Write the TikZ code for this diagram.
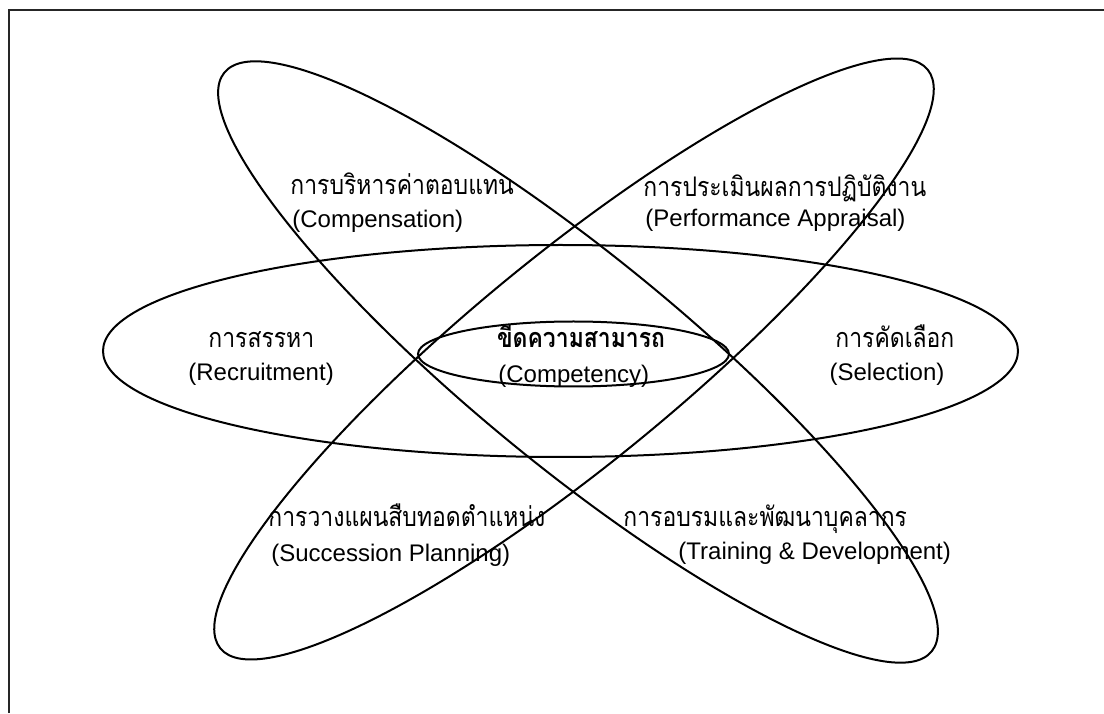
\documentclass[tikz,border=0pt]{standalone}
\usepackage{fontspec}
\setmainfont{Liberation Sans}
\newfontfamily\thai[Script=Thai,FakeStretch=0.85]{Loma}
\begin{document}
\begin{tikzpicture}[x=0.5pt,y=0.5pt,
  orbit/.style={draw=black,line width=1pt},
  thline/.style={anchor=base west,inner sep=0pt,font=\thai\fontsize{13.5}{15}\selectfont},
  enline/.style={anchor=base west,inner sep=0pt,font=\fontsize{12}{14}\selectfont}]
\useasboundingbox (0,0) rectangle (1104,713);
% open frame: left and top edges
\draw[line width=1.3pt,black!85] (9,0) -- (9,703) -- (1104,703);
% the three crossing orbits and the core
\draw[orbit] (560.5,362) ellipse [x radius=457.5,y radius=106];
\draw[orbit,rotate around={-39.3:(578,351)}] (578,351) ellipse [x radius=457,y radius=105];
\draw[orbit,rotate around={39.3:(574,354)}] (574,354) ellipse [x radius=457,y radius=104];
\draw[orbit] (573.5,359) ellipse [x radius=155.5,y radius=32.5];
% labels
\node[thline] (compTh) at (290,518) {การบริหารค่าตอบแทน};
\node[enline] (compEn) at (292,485) {(Compensation)};
\node[thline] (perfTh) at (643,516) {การประเมินผลการปฏิบัติงาน};
\node[enline] (perfEn) at (645,486) {(Performance Appraisal)};
\node[thline] (recTh) at (208,365) {การสรรหา};
\node[enline] (recEn) at (188,332) {(Recruitment)};
\node[thline,anchor=base,font=\thai\bfseries\fontsize{13.5}{15}\selectfont] (coreTh) at (581,365) {ขีดความสามารถ};
\node[enline] (coreEn) at (498,330) {(Competency)};
\node[thline] (selTh) at (835,365) {การคัดเลือก};
\node[enline,anchor=base] (selEn) at (887,332) {(Selection)};
\node[thline] (sucTh) at (268,186) {การวางแผนสืบทอดตำแหน่ง};
\node[enline] (sucEn) at (271,151) {(Succession Planning)};
\node[thline] (trTh) at (623,186) {การอบรมและพัฒนาบุคลากร};
\node[enline] (trEn) at (678,153) {(Training \& Development)};
\end{tikzpicture}
\end{document}
